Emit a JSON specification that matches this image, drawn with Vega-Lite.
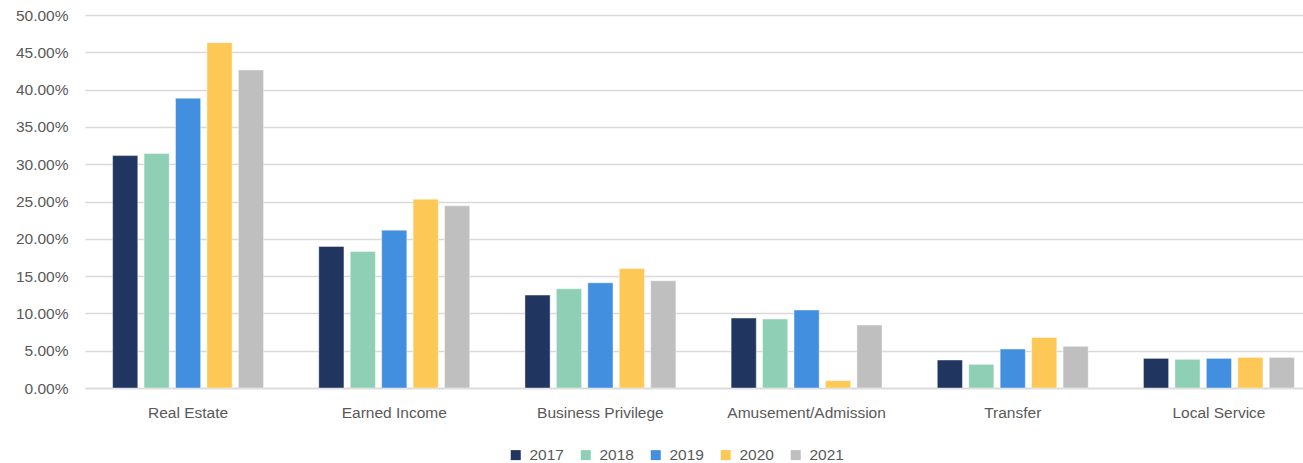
{
  "$schema": "https://vega.github.io/schema/vega-lite/v6.json",
  "width": 1218,
  "height": 373,
  "autosize": {"type": "none"},
  "padding": {"left": 85, "top": 15, "right": 0, "bottom": 75},
  "background": "white",
  "data": {
    "values": [
      {"category": "Real Estate", "year": "2017", "value": 0.3115},
      {"category": "Real Estate", "year": "2018", "value": 0.3142},
      {"category": "Real Estate", "year": "2019", "value": 0.3884},
      {"category": "Real Estate", "year": "2020", "value": 0.4629},
      {"category": "Real Estate", "year": "2021", "value": 0.4263},
      {"category": "Earned Income", "year": "2017", "value": 0.1897},
      {"category": "Earned Income", "year": "2018", "value": 0.183},
      {"category": "Earned Income", "year": "2019", "value": 0.2116},
      {"category": "Earned Income", "year": "2020", "value": 0.2531},
      {"category": "Earned Income", "year": "2021", "value": 0.2442},
      {"category": "Business Privilege", "year": "2017", "value": 0.1245},
      {"category": "Business Privilege", "year": "2018", "value": 0.133},
      {"category": "Business Privilege", "year": "2019", "value": 0.141},
      {"category": "Business Privilege", "year": "2020", "value": 0.1602},
      {"category": "Business Privilege", "year": "2021", "value": 0.1437},
      {"category": "Amusement/Admission", "year": "2017", "value": 0.0937},
      {"category": "Amusement/Admission", "year": "2018", "value": 0.0924},
      {"category": "Amusement/Admission", "year": "2019", "value": 0.1045},
      {"category": "Amusement/Admission", "year": "2020", "value": 0.0098},
      {"category": "Amusement/Admission", "year": "2021", "value": 0.0843},
      {"category": "Transfer", "year": "2017", "value": 0.0375},
      {"category": "Transfer", "year": "2018", "value": 0.0317},
      {"category": "Transfer", "year": "2019", "value": 0.0522},
      {"category": "Transfer", "year": "2020", "value": 0.0678},
      {"category": "Transfer", "year": "2021", "value": 0.0558},
      {"category": "Local Service", "year": "2017", "value": 0.0397},
      {"category": "Local Service", "year": "2018", "value": 0.0384},
      {"category": "Local Service", "year": "2019", "value": 0.0397},
      {"category": "Local Service", "year": "2020", "value": 0.041},
      {"category": "Local Service", "year": "2021", "value": 0.041}
    ]
  },
  "mark": {"type": "bar", "stroke": "white", "strokeOpacity": 0.6, "strokeWidth": 0.7},
  "encoding": {
    "x": {
      "field": "category",
      "type": "nominal",
      "sort": null,
      "title": null,
      "scale": {"range": [0, 1237], "paddingInner": 0.268, "paddingOuter": 0.134},
      "axis": {
        "labelAngle": 0,
        "labelFont": "Liberation Sans",
        "labelFontSize": 15.5,
        "labelColor": "#595959",
        "labelPadding": 17,
        "ticks": false,
        "domainColor": "#d9d9d9",
        "domainWidth": 1.5,
        "grid": false
      }
    },
    "xOffset": {
      "field": "year",
      "type": "nominal",
      "scale": {"paddingInner": 0.2, "paddingOuter": 0}
    },
    "y": {
      "field": "value",
      "type": "quantitative",
      "title": null,
      "scale": {"domain": [0, 0.5], "nice": false},
      "axis": {
        "values": [0, 0.05, 0.1, 0.15, 0.2, 0.25, 0.3, 0.35, 0.4, 0.45, 0.5],
        "format": ".2%",
        "labelFont": "Liberation Sans",
        "labelFontSize": 15.5,
        "labelColor": "#595959",
        "labelPadding": 17,
        "ticks": false,
        "domain": false,
        "gridColor": "#d9d9d9",
        "gridWidth": 1.3
      }
    },
    "color": {
      "field": "year",
      "type": "nominal",
      "title": null,
      "scale": {
        "domain": ["2017", "2018", "2019", "2020", "2021"],
        "range": ["#203560", "#8ECFB5", "#428FDF", "#FDC855", "#BFBFBF"]
      },
      "legend": {
        "orient": "none",
        "direction": "horizontal",
        "legendX": 423,
        "legendY": 432,
        "symbolType": "square",
        "symbolSize": 100,
        "symbolStrokeWidth": 0,
        "labelFont": "Liberation Sans",
        "labelFontSize": 15.5,
        "labelColor": "#595959",
        "labelOffset": 6,
        "columnPadding": 14
      }
    }
  },
  "config": {"view": {"stroke": null}}
}
